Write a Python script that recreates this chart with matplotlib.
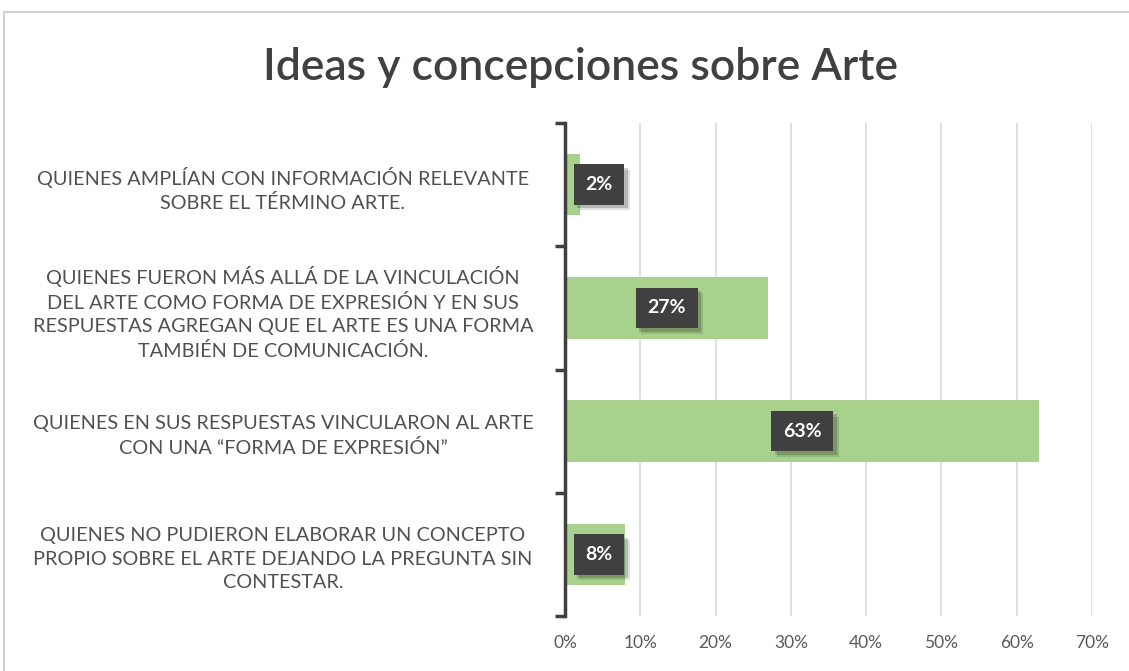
import numpy as np
import matplotlib.pyplot as plt
import matplotlib.patheffects as pe
from matplotlib.patches import Rectangle

plt.rcParams['font.family'] = ['Lato', 'DejaVu Sans']

title = 'Ideas y concepciones sobre Arte'
categories = [
    'QUIENES AMPLÍAN CON INFORMACIÓN RELEVANTE\nSOBRE EL TÉRMINO ARTE.',
    'QUIENES FUERON MÁS ALLÁ DE LA VINCULACIÓN\nDEL ARTE COMO FORMA DE EXPRESIÓN Y EN SUS\n'
    'RESPUESTAS AGREGAN QUE EL ARTE ES UNA FORMA\nTAMBIÉN DE COMUNICACIÓN.',
    'QUIENES EN SUS RESPUESTAS VINCULARON AL ARTE\nCON UNA “FORMA DE EXPRESIÓN”',
    'QUIENES NO PUDIERON ELABORAR UN CONCEPTO\nPROPIO SOBRE EL ARTE DEJANDO LA PREGUNTA SIN\nCONTESTAR.',
]
values = [0.02, 0.27, 0.63, 0.08]
xticks = [0, 0.1, 0.2, 0.3, 0.4, 0.5, 0.6, 0.7]

fig = plt.figure(figsize=(11.29, 6.71), dpi=100)
ax = fig.add_axes([565 / 1129, 1 - 616 / 671, (1092 - 565) / 1129, (616 - 123) / 671])

# chart border (left and top visible)
fig.patches.append(Rectangle((4 / 1129, -0.1), 1.2, 1 - 12 / 671 + 0.1, transform=fig.transFigure,
                             fill=False, ec='#c8c8c8', lw=1.2))

y = np.arange(len(categories))
ax.barh(y, values, height=0.5, color='#a9d18e', zorder=2)
ax.set_ylim(len(categories) - 0.5, -0.5)
ax.set_xlim(0, 0.7)

ax.set_xticks(xticks)
ax.set_xticklabels([f'{int(round(t * 100))}%' for t in xticks], fontsize=12.5, color='#595959')
ax.tick_params(axis='x', length=0, pad=14)
ax.grid(axis='x', color='#d9d9d9', lw=1.2, zorder=0)

ax.set_yticks(y)
ax.set_yticklabels(categories, fontsize=14.3, color='#505050', ha='center', linespacing=1.45)
ax.tick_params(axis='y', which='major', length=0, pad=203)
ax.set_yticks(np.arange(len(categories) + 1) - 0.5, minor=True)
ax.tick_params(axis='y', which='minor', length=7, width=2.5, color='#404040', direction='out')

for s in ['top', 'right', 'bottom']:
    ax.spines[s].set_visible(False)
ax.spines['left'].set_color('#404040')
ax.spines['left'].set_linewidth(2.5)

# data labels: dark boxes with a soft shadow
for i, v in enumerate(values):
    xpos = max(v / 2, 0.045)
    t = ax.text(xpos, i, f'{int(round(v * 100))}%', ha='center', va='center',
                fontsize=14, fontweight='bold', color='white', zorder=4,
                bbox=dict(boxstyle='square,pad=0.6', fc='#404040', ec='none'))
    t.get_bbox_patch().set_path_effects([
        pe.SimplePatchShadow(offset=(4, -4), shadow_rgbFace='black', alpha=0.12),
        pe.SimplePatchShadow(offset=(2.5, -2.5), shadow_rgbFace='black', alpha=0.18),
        pe.Normal()])

fig.text(0.514, 1 - 68 / 671, title, ha='center', va='center', fontsize=32,
         fontweight='semibold', color='#404040')

fig.savefig('out.png', dpi=100)
